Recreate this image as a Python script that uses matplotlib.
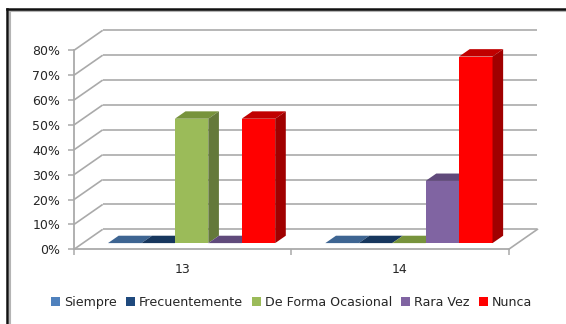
import matplotlib
matplotlib.use('Agg')
import matplotlib.pyplot as plt
from matplotlib.lines import Line2D
from matplotlib.patches import Patch, Polygon

categories = ['13', '14']
series = ['Siempre', 'Frecuentemente', 'De Forma Ocasional', 'Rara Vez', 'Nunca']
values = {
    'Siempre': [0, 0],
    'Frecuentemente': [0, 0],
    'De Forma Ocasional': [50, 0],
    'Rara Vez': [0, 25],
    'Nunca': [50, 75],
}
y_ticks = [0, 10, 20, 30, 40, 50, 60, 70, 80]

front_colors = ['#4f81bd', '#1f497d', '#9bbb59', '#8064a2', '#ff0000']
top_colors = ['#3e6592', '#17375e', '#77933c', '#604a7b', '#c00000']
side_colors = ['#33547a', '#12294a', '#64793a', '#50406a', '#a00000']
grid_color = '#aaaaaa'

W, H = 566, 324
# wall offset of the 3D box, in axis units
DEPTH_X = 28.7 / 217.3
DEPTH_Y = 20 / 2.49
# bars stand between these fractions of the floor depth
BAR_NEAR = 0.31
BAR_FAR = 0.68
GAP = 1.5


def project(x, v, d):
    return x + d * DEPTH_X, v + d * DEPTH_Y


def draw_bar(ax, x, width, value, near, far, front, top, side, z):
    x0, x1 = x, x + width
    ax.add_patch(Polygon([project(x0, 0, near), project(x1, 0, near),
                          project(x1, value, near), project(x0, value, near)],
                         fc=front, ec='none', clip_on=False, zorder=z))
    ax.add_patch(Polygon([project(x0, value, near), project(x1, value, near),
                          project(x1, value, far), project(x0, value, far)],
                         fc=top, ec='none', clip_on=False, zorder=z))
    if value > 0:
        ax.add_patch(Polygon([project(x1, 0, near), project(x1, 0, far),
                              project(x1, value, far), project(x1, value, near)],
                             fc=side, ec='none', clip_on=False, zorder=z))


fig = plt.figure(figsize=(W / 100, H / 100), dpi=100)
plt.rcParams['font.family'] = ['DejaVu Sans']

ax = fig.add_axes([74 / W, 1 - 249.3 / H, 434.7 / W, 199 / H])
ax.set_xlim(0, 2)
ax.set_ylim(0, 80)
ax.patch.set_visible(False)

# back wall and side wall gridlines
for v in y_ticks:
    x_back, y_back = project(0, v, 1)
    x_end, _ = project(2, v, 1)
    ax.plot([0, x_back], [v, y_back], color=grid_color, lw=1.2,
            clip_on=False, zorder=1, solid_capstyle='butt')
    ax.plot([x_back, x_end], [y_back, y_back], color=grid_color, lw=1.2,
            clip_on=False, zorder=1, solid_capstyle='butt')

# floor edge on the right
x_back, y_back = project(2, 0, 1)
ax.plot([2, x_back], [0, y_back], color=grid_color, lw=1.2, clip_on=False, zorder=1)

bar_w = 1 / (len(series) + GAP)
for c in range(len(categories)):
    for i, name in enumerate(series):
        x = c + GAP / 2 * bar_w + i * bar_w
        draw_bar(ax, x, bar_w, values[name][c], BAR_NEAR, BAR_FAR,
                 front_colors[i], top_colors[i], side_colors[i], 3 + i)

for side in ['top', 'right']:
    ax.spines[side].set_visible(False)
for side in ['left', 'bottom']:
    ax.spines[side].set_color(grid_color)
    ax.spines[side].set_linewidth(1.3)

ax.set_yticks(y_ticks)
ax.set_yticklabels(['%d%%' % v for v in y_ticks], fontsize=9, color='#262626')
ax.set_xticks([0, 1, 2])
ax.set_xticklabels([])
ax.set_xticks([0.5, 1.5], minor=True)
ax.set_xticklabels(categories, minor=True, fontsize=9, color='#262626')
ax.tick_params(axis='y', color=grid_color, width=1.1, length=4, pad=6)
ax.tick_params(axis='x', which='major', color=grid_color, width=1.1, length=4.5)
ax.tick_params(axis='x', which='minor', length=0, pad=10)

handles = [Patch(fc=c, ec='none', label=s) for c, s in zip(front_colors, series)]
fig.legend(handles=handles, loc='center', bbox_to_anchor=(291.5 / W, 1 - 302.5 / H),
           ncol=5, frameon=False, fontsize=9.1, handlelength=0.72, handleheight=0.78,
           handletextpad=0.3, columnspacing=0.72, labelcolor='#262626',
           borderpad=0, borderaxespad=0)

# frame around the pasted chart, open at the right and bottom
frame = [((9.5, 9.5), (H, 10.5), '#b4b4b4', 1.5), ((9.5, W), (10.5, 10.5), '#b4b4b4', 1.5),
         ((7, 7), (H, 8.5), '#111111', 1.8), ((7, W), (8.5, 8.5), '#111111', 1.8)]
for xs, ys, col, lw in frame:
    fig.add_artist(Line2D([p / W for p in xs], [1 - p / H for p in ys],
                          color=col, lw=lw, transform=fig.transFigure))

fig.savefig('out.png', dpi=100)
